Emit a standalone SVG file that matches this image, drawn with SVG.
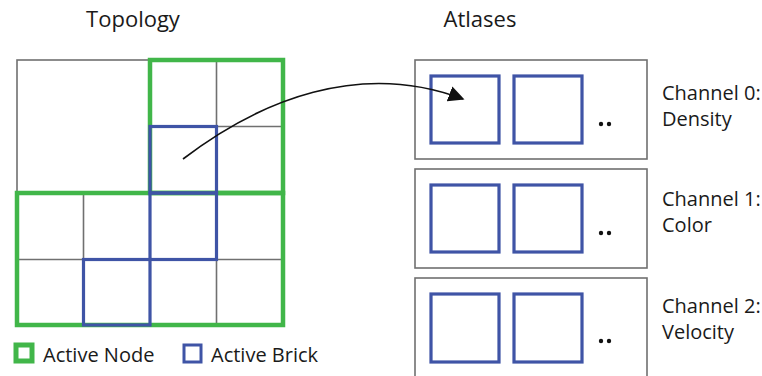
<svg xmlns="http://www.w3.org/2000/svg" width="762" height="376" viewBox="0 0 762 376">
  <style>
    text { font-family: "Open Sans", "Liberation Sans", sans-serif; fill: #1a1a1a; }
    .title { font-size: 22px; }
    .label { font-size: 20px; }
    .grid { fill: none; stroke: #707070; stroke-width: 1.6; }
    .node { fill: none; stroke: #41b649; stroke-width: 4.5; }
    .brick { fill: none; stroke: #3f54a6; stroke-width: 3.2; }
    .atlas { fill: #ffffff; stroke: #707070; stroke-width: 1.6; }
    .dot { fill: #111111; }
  </style>
  <defs>
    <marker id="arrowhead" viewBox="0 0 10 10" refX="9" refY="5" markerWidth="16" markerHeight="16" markerUnits="userSpaceOnUse" orient="auto">
      <path d="M0,0 L10,5 L0,10 z" fill="#111111"/>
    </marker>
  </defs>

  <text class="title" x="133" y="27" text-anchor="middle">Topology</text>
  <text class="title" x="480" y="27" text-anchor="middle">Atlases</text>

  <!-- Topology: octree grid -->
  <g id="topology">
    <rect class="grid" x="17" y="60" width="133" height="133"/>
    <line class="grid" x1="216.5" y1="60" x2="216.5" y2="325"/>
    <line class="grid" x1="150" y1="126.5" x2="283" y2="126.5"/>
    <line class="grid" x1="83.5" y1="193" x2="83.5" y2="325"/>
    <line class="grid" x1="150" y1="193" x2="150" y2="325"/>
    <line class="grid" x1="17" y1="259.5" x2="283" y2="259.5"/>
  </g>

  <g id="active-nodes">
    <rect class="node" x="150" y="60" width="133" height="133"/>
    <rect class="node" x="17" y="193" width="266" height="132"/>
  </g>

  <g id="active-bricks">
    <rect class="brick" x="150" y="126.5" width="66.5" height="66.5"/>
    <rect class="brick" x="150" y="193" width="66.5" height="66.5"/>
    <rect class="brick" x="83.5" y="259.5" width="66.5" height="65.5"/>
  </g>

  <!-- Atlases, one per channel -->
  <g id="atlas-0">
    <rect class="atlas" x="415" y="60" width="232" height="99"/>
    <rect class="brick" x="431" y="76" width="68" height="67"/>
    <rect class="brick" x="514" y="76" width="68" height="67"/>
    <circle class="dot" cx="601" cy="124" r="2.2"/>
    <circle class="dot" cx="609" cy="124" r="2.2"/>
    <text class="label" x="662" y="100">Channel 0:</text>
    <text class="label" x="662" y="126">Density</text>
  </g>

  <g id="atlas-1">
    <rect class="atlas" x="415" y="169" width="232" height="99"/>
    <rect class="brick" x="431" y="185" width="68" height="67"/>
    <rect class="brick" x="514" y="185" width="68" height="67"/>
    <circle class="dot" cx="601" cy="233" r="2.2"/>
    <circle class="dot" cx="609" cy="233" r="2.2"/>
    <text class="label" x="662" y="206">Channel 1:</text>
    <text class="label" x="662" y="232">Color</text>
  </g>

  <g id="atlas-2">
    <rect class="atlas" x="415" y="278" width="232" height="110"/>
    <rect class="brick" x="431" y="294" width="68" height="68"/>
    <rect class="brick" x="514" y="294" width="68" height="68"/>
    <circle class="dot" cx="601" cy="341" r="2.2"/>
    <circle class="dot" cx="609" cy="341" r="2.2"/>
    <text class="label" x="662" y="313">Channel 2:</text>
    <text class="label" x="662" y="339">Velocity</text>
  </g>

  <g id="connectors">
    <path d="M183,159 C260,100 360,60 463,99" fill="none" stroke="#111111" stroke-width="1.6" marker-end="url(#arrowhead)"/>
  </g>

  <!-- Legend -->
  <g id="legend">
    <rect x="16" y="345" width="16" height="16" fill="none" stroke="#41b649" stroke-width="5"/>
    <text class="label" x="43" y="362">Active Node</text>
    <rect x="184" y="345" width="17" height="17" fill="none" stroke="#3f54a6" stroke-width="3"/>
    <text class="label" x="211" y="362">Active Brick</text>
  </g>
</svg>
